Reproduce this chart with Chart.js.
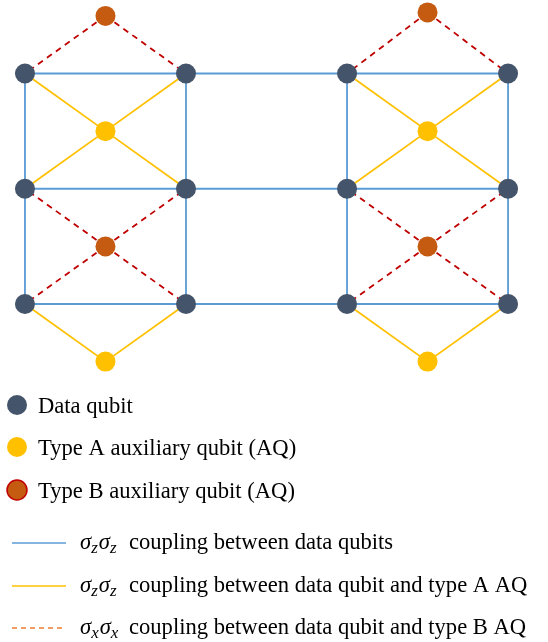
<!DOCTYPE html>
<html><head><meta charset="utf-8">
<script src="https://cdn.jsdelivr.net/npm/chart.js@4.4.1/dist/chart.umd.min.js"></script>
<style>html,body{margin:0;padding:0;background:#fff}#wrap{width:548px;height:642px;position:relative}</style>
</head><body><div id="wrap"><canvas id="c" width="548" height="642"></canvas></div>
<script>
// Lattice coordinates (column, row) of the qubits
const dataQubits = [[0,0],[1,0],[2,0],[3,0],[0,1],[1,1],[2,1],[3,1],[0,2],[1,2],[2,2],[3,2]];
const typeAQubits = [[0.5,0.5],[2.5,0.5],[0.5,2.5],[2.5,2.5]];
const typeBQubits = [[0.5,-0.5],[2.5,-0.53],[0.5,1.5],[2.5,1.5]];
// Couplings as [from, to]
const dataCouplings = [
  [[0,0],[3,0]],[[0,1],[3,1]],[[0,2],[3,2]],
  [[0,0],[0,2]],[[1,0],[1,2]],[[2,0],[2,2]],[[3,0],[3,2]]
];
const typeACouplings = [
  [[0.5,0.5],[0,0]],[[0.5,0.5],[1,0]],[[0.5,0.5],[0,1]],[[0.5,0.5],[1,1]],
  [[2.5,0.5],[2,0]],[[2.5,0.5],[3,0]],[[2.5,0.5],[2,1]],[[2.5,0.5],[3,1]],
  [[0.5,2.5],[0,2]],[[0.5,2.5],[1,2]],
  [[2.5,2.5],[2,2]],[[2.5,2.5],[3,2]]
];
const typeBCouplings = [
  [[0.5,-0.5],[0,0]],[[0.5,-0.5],[1,0]],
  [[2.5,-0.53],[2,0]],[[2.5,-0.53],[3,0]],
  [[0.5,1.5],[0,1]],[[0.5,1.5],[1,1]],[[0.5,1.5],[0,2]],[[0.5,1.5],[1,2]],
  [[2.5,1.5],[2,1]],[[2.5,1.5],[3,1]],[[2.5,1.5],[2,2]],[[2.5,1.5],[3,2]]
];
const legendMarkers = ["Data qubit","Type A auxiliary qubit (AQ)","Type B auxiliary qubit (AQ)"];
const legendLines = [
  {sym:"\u03C3", sub:"z", text:"coupling between data qubits"},
  {sym:"\u03C3", sub:"z", text:"coupling between data qubit and type A AQ"},
  {sym:"\u03C3", sub:"x", text:"coupling between data qubit and type B AQ"}
];

const C = {blue:"#5B9BD5", yellow:"#FFC000", red:"#C00000", data:"#44546A", orange:"#C55A11", legOrange:"#ED7D31"};
const pts = a => a.map(p => ({x:p[0], y:p[1]}));
const datasets = [];
datasets.push({data:pts(dataQubits), backgroundColor:C.data, borderColor:C.data, pointRadius:10, borderWidth:0, order:0, showLine:false});
datasets.push({data:pts(typeAQubits), backgroundColor:C.yellow, borderColor:C.yellow, pointRadius:10, borderWidth:0, order:0, showLine:false});
datasets.push({data:pts(typeBQubits), backgroundColor:C.orange, borderColor:C.orange, pointRadius:10, borderWidth:0, order:0, showLine:false});
const addEdges = (edges, color, dash) => edges.forEach(e => datasets.push({
  data:pts(e), showLine:true, borderColor:color, borderWidth:1.8, borderDash:dash, pointRadius:0, order:1, fill:false
}));
addEdges(dataCouplings, C.blue, []);
addEdges(typeACouplings, C.yellow, []);
addEdges(typeBCouplings, C.red, [6,5]);

const FS = 22.6;
const legendPlugin = {
  id:"qlegend",
  afterDraw(chart){
    const ctx = chart.ctx;
    ctx.save();
    const mcol = [C.data, C.yellow, C.orange];
    const my = [405, 447, 490];
    legendMarkers.forEach((t,i) => {
      ctx.beginPath(); ctx.arc(17, my[i], 10, 0, Math.PI*2);
      ctx.fillStyle = mcol[i]; ctx.fill();
      if (i===2){ ctx.lineWidth=1.5; ctx.strokeStyle=C.red; ctx.stroke(); }
      ctx.fillStyle="#000"; ctx.font=FS+"px 'Liberation Serif'"; ctx.textBaseline="alphabetic";
      ctx.fillText(t, 38, my[i]+7.5);
    });
    const ly = [543, 586, 628];
    const lcol = [C.blue, C.yellow, C.legOrange];
    legendLines.forEach((l,i) => {
      ctx.beginPath(); ctx.moveTo(12, ly[i]); ctx.lineTo(66, ly[i]);
      ctx.strokeStyle=lcol[i]; ctx.lineWidth=1.5; ctx.setLineDash(i===2?[5,4]:[]); ctx.stroke(); ctx.setLineDash([]);
      ctx.fillStyle="#000";
      let x = 80; const base = ly[i]+6;
      for (let k=0;k<2;k++){
        ctx.font="italic "+FS+"px 'Liberation Serif'"; ctx.fillText(l.sym, x, base); x += ctx.measureText(l.sym).width;
        ctx.font="italic 17px 'Liberation Serif'"; ctx.fillText(l.sub, x, base+4); x += ctx.measureText(l.sub).width+1;
      }
      ctx.font=FS+"px 'Liberation Serif'"; ctx.fillText(l.text, 129, base);
    });
    ctx.restore();
  }
};

new Chart(document.getElementById("c"), {
  type:"scatter",
  data:{datasets},
  options:{
    responsive:false, animation:false, maintainAspectRatio:false,
    layout:{padding:0, autoPadding:false},
    plugins:{legend:{display:false}, tooltip:{enabled:false}},
    scales:{
      x:{type:"linear", display:false, min:-0.155, max:3.248},
      y:{type:"linear", display:false, reverse:true, min:-0.638, max:4.933}
    }
  },
  plugins:[legendPlugin]
});
</script></body></html>
